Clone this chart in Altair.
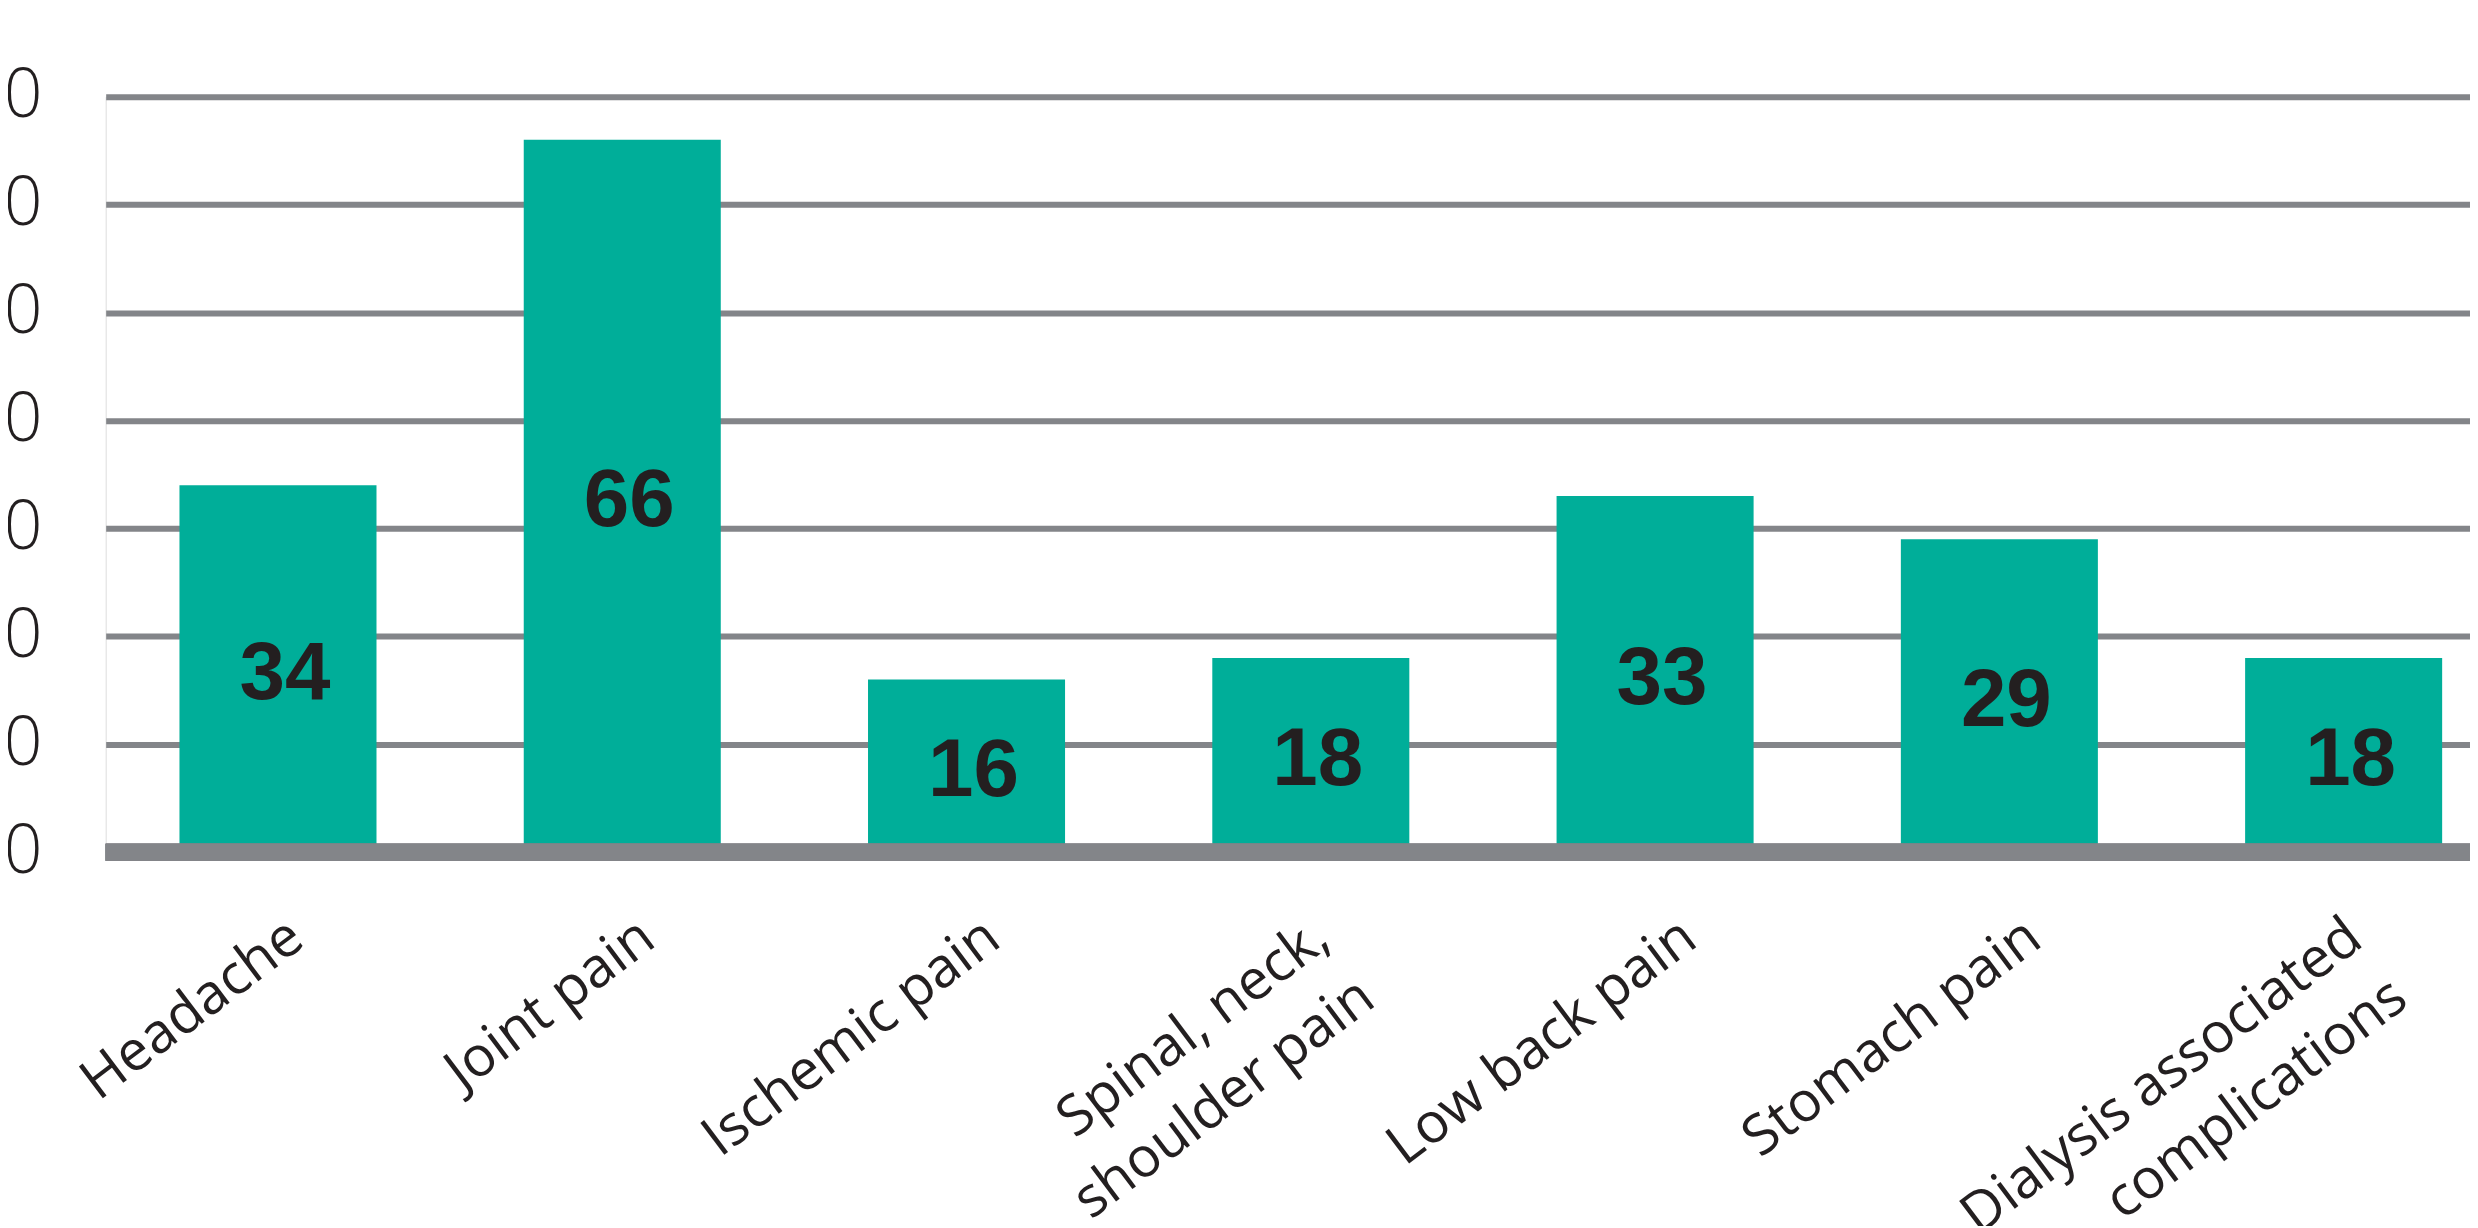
import altair as alt
import pandas as pd

categories = [
    "Headache",
    "Joint pain",
    "Ischemic pain",
    "Spinal, neck,\nshoulder pain",
    "Low back pain",
    "Stomach pain",
    "Dialysis associated\ncomplications",
]
values = [34, 66, 16, 18, 33, 29, 18]
y_ticks = [0, 10, 20, 30, 40, 50, 60, 70]

TEAL = "#00AE99"
GRAY = "#838589"
INK = "#231F20"

df = pd.DataFrame({"category": categories, "value": values})

W, H = 2372, 758

x_scale = alt.Scale(domain=categories, paddingInner=0.4277, paddingOuter=0.1476,
                    align=0.726, round=False)
y_scale = alt.Scale(domain=[0, 70], nice=False)

label_offset = {
    "condition": [
        {"test": "datum.value == 'Headache'", "value": 29},
        {"test": "datum.value == 'Joint pain'", "value": 36},
        {"test": "datum.value == 'Ischemic pain'", "value": 37},
        {"test": "datum.value == 'Low back pain'", "value": 45},
        {"test": "datum.value == 'Stomach pain'", "value": 45},
    ],
    "value": 22,
}

base = alt.Chart(df)

bars = base.mark_bar(color=TEAL).encode(
    x=alt.X(
        "category:N",
        scale=x_scale,
        sort=categories,
        title=None,
        axis=alt.Axis(
            labelAngle=-37,
            labelAlign="right",
            labelBaseline="alphabetic",
            labelFont="Open Sans",
            labelFontSize=56,
            labelColor=INK,
            labelPadding=92,
            labelOffset=label_offset,
            labelLineHeight=75,
            labelExpr="split(datum.label, '\\n')",
            labelLimit=1000,
            labelOverlap=False,
            domain=False,
            ticks=False,
            grid=False,
        ),
    ),
    y=alt.Y(
        "value:Q",
        scale=y_scale,
        title=None,
        axis=alt.Axis(
            values=y_ticks,
            labelFont="Open Sans",
            labelFontWeight=300,
            labelFontSize=68,
            labelColor=INK,
            labelPadding=64,
            labelAlign="right",
            labelBaseline="middle",
            domain=False,
            ticks=False,
            grid=True,
            gridColor=GRAY,
            gridWidth=6,
            gridOpacity=1,
        ),
    ),
)

baseline = base.mark_rule(color=GRAY, strokeWidth=17).encode(
    x=alt.value(0), x2=alt.value(W), y=alt.YDatum(0)
)

labels = base.transform_calculate(mid="datum.value / 2").mark_text(
    font="Liberation Sans",
    fontWeight="bold",
    fontSize=82,
    color=INK,
    dx=7,
    dy=5,
    baseline="middle",
    align="center",
).encode(
    x=alt.X("category:N", scale=x_scale, sort=categories),
    y=alt.Y("mid:Q", scale=y_scale),
    text=alt.Text("value:Q"),
)

chart = (
    alt.layer(bars, baseline, labels)
    .properties(
        width=W,
        height=H,
        autosize=alt.AutoSizeParams(type="none"),
        padding={"left": 98, "top": 87, "right": 0, "bottom": 373},
    )
    .configure_view(stroke=None)
    .configure(background="white")
)

chart.save("out.html", embed_options={"renderer": "svg", "actions": False})
